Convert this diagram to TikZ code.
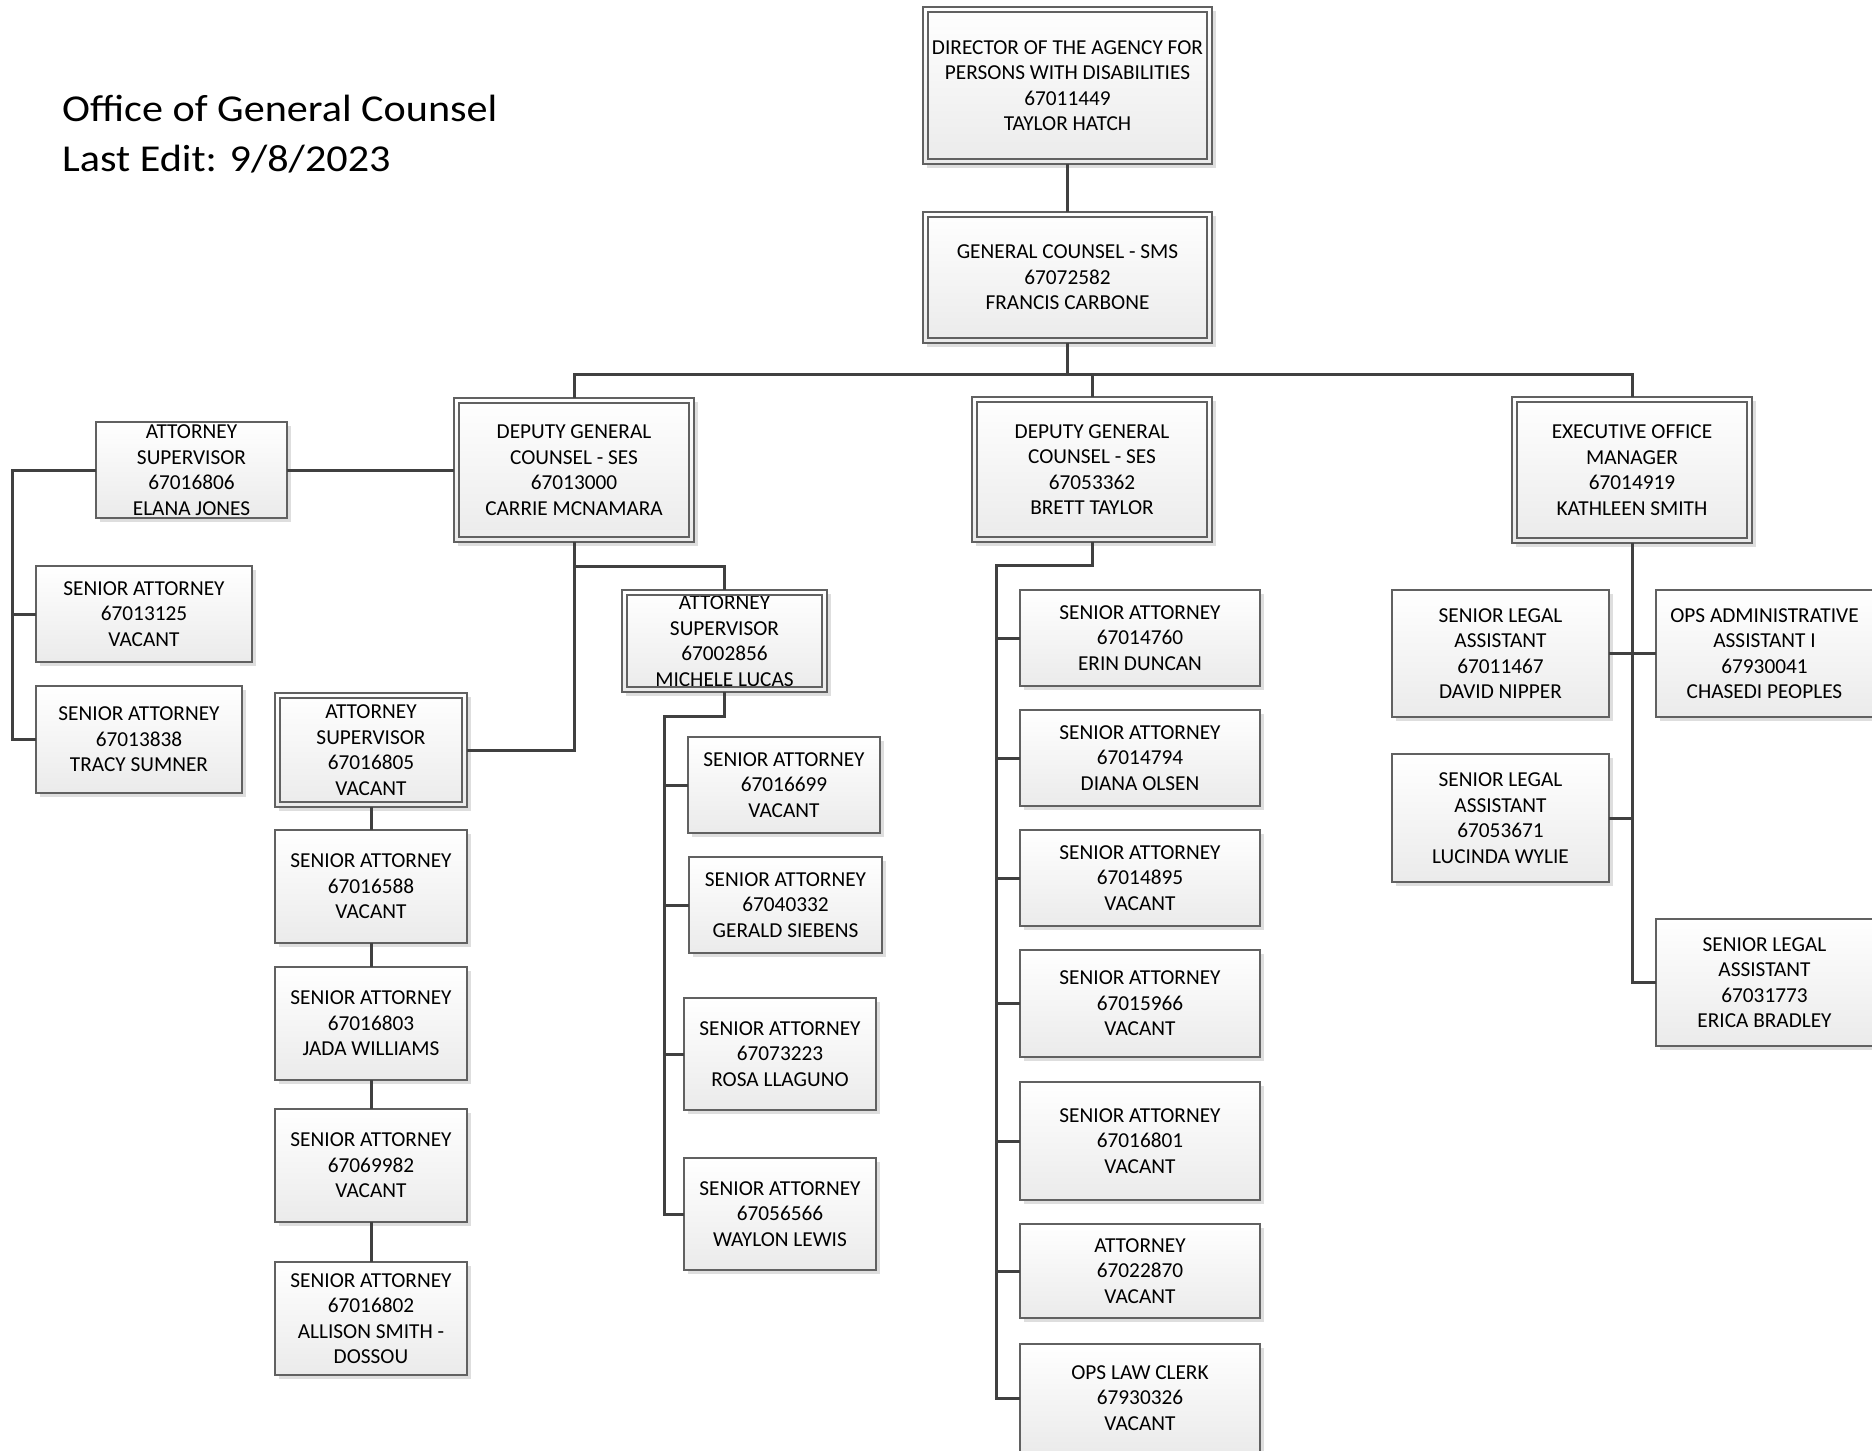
\documentclass[tikz,border=0pt]{standalone}
\usepackage{fontspec}
\setmainfont{Carlito}
\usetikzlibrary{shadows}
\newcommand\boxfont{\fontsize{21.3}{25.5}\selectfont}
\newcommand\titlefont{\fontsize{38}{50}\selectfont}
\tikzset{
  box/.style={draw=black!62, line width=1.3pt, top color=white, bottom color=black!8,
    inner sep=0pt, outer sep=0pt, align=center, font=\boxfont, text=black,
    drop shadow={shadow xshift=4pt, shadow yshift=-4pt, fill=black!13, opacity=1}},
  innerline/.style={draw=black!62, line width=1.3pt},
  conn/.style={draw=black!75, line width=3pt},
  ttl/.style={anchor=base west, inner sep=0pt, font=\titlefont, text=black}
}
\begin{document}
\begin{tikzpicture}[x=1pt,y=-1pt]
\fill[white] (0,0) rectangle (1872,1451);
\useasboundingbox (0,0) rectangle (1872,1451);

% title
\node[ttl] (titleA) at (62,121) {\scalebox{1.11}[1]{Office of General Counsel}};
\node[ttl] (titleB) at (62,171) {\scalebox{1.11}[1]{Last Edit: 9/8/2023}};

% top
\node[box, minimum width=289, minimum height=157] (dir) at (1067.5,85.5)
  {DIRECTOR OF THE AGENCY FOR\\PERSONS WITH DISABILITIES\\67011449\\TAYLOR HATCH};
\node[box, minimum width=289, minimum height=131] (gc) at (1067.5,277.5)
  {GENERAL COUNSEL - SMS\\67072582\\FRANCIS CARBONE};

% level 2
\node[box, minimum width=240, minimum height=144] (dep1) at (574,470)
  {DEPUTY GENERAL\\COUNSEL - SES\\67013000\\CARRIE MCNAMARA};
\node[box, minimum width=240, minimum height=145] (dep2) at (1092,469.5)
  {DEPUTY GENERAL\\COUNSEL - SES\\67053362\\BRETT TAYLOR};
\node[box, minimum width=240, minimum height=146] (exec) at (1632,470)
  {EXECUTIVE OFFICE\\MANAGER\\67014919\\KATHLEEN SMITH};

% left group
\node[box, minimum width=191, minimum height=96] (as1) at (191.5,470)
  {ATTORNEY\\SUPERVISOR\\67016806\\ELANA JONES};
\node[box, minimum width=216, minimum height=96] (sa13125) at (144,614)
  {SENIOR ATTORNEY\\67013125\\VACANT};
\node[box, minimum width=206, minimum height=107] (sa13838) at (139,739.5)
  {SENIOR ATTORNEY\\67013838\\TRACY SUMNER};

% attorney supervisor 67016805 chain
\node[box, minimum width=192, minimum height=114] (as3) at (371,750)
  {ATTORNEY\\SUPERVISOR\\67016805\\VACANT};
\node[box, minimum width=192, minimum height=113] (sa16588) at (371,886.5)
  {SENIOR ATTORNEY\\67016588\\VACANT};
\node[box, minimum width=192, minimum height=113] (sa16803) at (371,1023.5)
  {SENIOR ATTORNEY\\67016803\\JADA WILLIAMS};
\node[box, minimum width=192, minimum height=113] (sa69982) at (371,1165.5)
  {SENIOR ATTORNEY\\67069982\\VACANT};
\node[box, minimum width=192, minimum height=113] (sa16802) at (371,1318.5)
  {SENIOR ATTORNEY\\67016802\\ALLISON SMITH -\\DOSSOU};

% attorney supervisor 67002856 group
\node[box, minimum width=205, minimum height=102] (as2) at (724.5,641)
  {ATTORNEY\\SUPERVISOR\\67002856\\MICHELE LUCAS};
\node[box, minimum width=192, minimum height=96] (sa16699) at (784,785)
  {SENIOR ATTORNEY\\67016699\\VACANT};
\node[box, minimum width=193, minimum height=96] (sa40332) at (785.5,905)
  {SENIOR ATTORNEY\\67040332\\GERALD SIEBENS};
\node[box, minimum width=192, minimum height=112] (sa73223) at (780,1054)
  {SENIOR ATTORNEY\\67073223\\ROSA LLAGUNO};
\node[box, minimum width=192, minimum height=112] (sa56566) at (780,1214)
  {SENIOR ATTORNEY\\67056566\\WAYLON LEWIS};

% deputy 2 group
\node[box, minimum width=240, minimum height=96] (sa14760) at (1140,638)
  {SENIOR ATTORNEY\\67014760\\ERIN DUNCAN};
\node[box, minimum width=240, minimum height=96] (sa14794) at (1140,758)
  {SENIOR ATTORNEY\\67014794\\DIANA OLSEN};
\node[box, minimum width=240, minimum height=96] (sa14895) at (1140,878)
  {SENIOR ATTORNEY\\67014895\\VACANT};
\node[box, minimum width=240, minimum height=107] (sa15966) at (1140,1003.5)
  {SENIOR ATTORNEY\\67015966\\VACANT};
\node[box, minimum width=240, minimum height=118] (sa16801) at (1140,1141)
  {SENIOR ATTORNEY\\67016801\\VACANT};
\node[box, minimum width=240, minimum height=94] (att22870) at (1140,1271)
  {ATTORNEY\\67022870\\VACANT};
\node[box, minimum width=240, minimum height=108] (opsclerk) at (1140,1398)
  {OPS LAW CLERK\\67930326\\VACANT};

% executive group
\node[box, minimum width=217, minimum height=127] (sla11467) at (1500.5,653.5)
  {SENIOR LEGAL\\ASSISTANT\\67011467\\DAVID NIPPER};
\node[box, minimum width=217, minimum height=127] (opsadmin) at (1764.5,653.5)
  {OPS ADMINISTRATIVE\\ASSISTANT I\\67930041\\CHASEDI PEOPLES};
\node[box, minimum width=217, minimum height=128] (sla53671) at (1500.5,818)
  {SENIOR LEGAL\\ASSISTANT\\67053671\\LUCINDA WYLIE};
\node[box, minimum width=217, minimum height=127] (sla31773) at (1764.5,982.5)
  {SENIOR LEGAL\\ASSISTANT\\67031773\\ERICA BRADLEY};

% inner borders of double-framed boxes
\foreach \n in {dir,gc,dep1,dep2,exec,as2,as3}
  \draw[innerline] ([shift={(5,5)}]\n.north west) rectangle ([shift={(-5,-5)}]\n.south east);

% connectors
\coordinate (busY) at (0,374);
\draw[conn] (dir.south) -- (gc.north);
\draw[conn] (gc.south) -- (gc.south |- busY);
\draw[conn] (dep1.north) -- (dep1.north |- busY) -- (exec.north |- busY) -- (exec.north);
\draw[conn] (dep2.north) -- (dep2.north |- busY);

% left
\coordinate (lx) at (12,0);
\draw[conn] (as1.east) -- (dep1.west);
\draw[conn] (as1.west) -- (as1.west -| lx) -- (sa13838.west -| lx) -- (sa13838.west);
\draw[conn] (sa13125.west -| lx) -- (sa13125.west);

% deputy 1
\coordinate (d1y) at (0,566);
\draw[conn] (dep1.south) -- (dep1.south |- as3.east) -- (as3.east);
\draw[conn] (dep1.south |- d1y) -- (as2.north |- d1y) -- (as2.north);
\draw[conn] (as3.south) -- (sa16588.north);
\draw[conn] (sa16588.south) -- (sa16803.north);
\draw[conn] (sa16803.south) -- (sa69982.north);
\draw[conn] (sa69982.south) -- (sa16802.north);

% attorney supervisor 2
\coordinate (a2y) at (0,716);
\coordinate (a2x) at (664,0);
\draw[conn] (as2.south) -- (as2.south |- a2y) -- (a2x |- a2y) -- (a2x |- sa56566.west) -- (sa56566.west);
\draw[conn] (a2x |- sa16699.west) -- (sa16699.west);
\draw[conn] (a2x |- sa40332.west) -- (sa40332.west);
\draw[conn] (a2x |- sa73223.west) -- (sa73223.west);

% deputy 2
\coordinate (d2y) at (0,565);
\coordinate (d2x) at (996,0);
\draw[conn] (dep2.south) -- (dep2.south |- d2y) -- (d2x |- d2y) -- (d2x |- opsclerk.west) -- (opsclerk.west);
\foreach \n in {sa14760,sa14794,sa14895,sa15966,sa16801,att22870}
  \draw[conn] (d2x |- \n.west) -- (\n.west);

% executive
\draw[conn] (exec.south) -- (exec.south |- sla31773.west) -- (sla31773.west);
\draw[conn] (sla11467.east) -- (opsadmin.west);
\draw[conn] (sla53671.east) -- (exec.south |- sla53671.east);
\end{tikzpicture}
\end{document}
